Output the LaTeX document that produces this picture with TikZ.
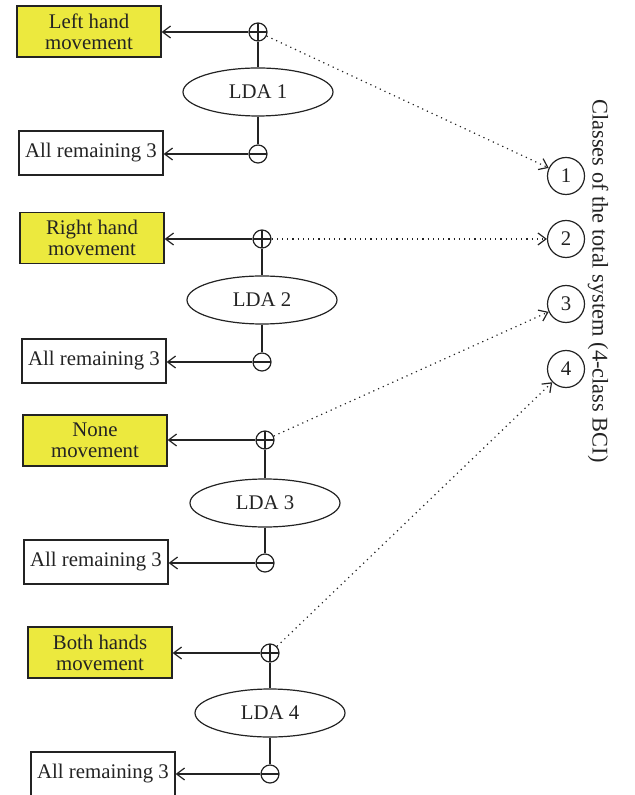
\documentclass[tikz,border=0pt]{standalone}
\usepackage{fontspec}
\setmainfont{Liberation Serif}
\usepackage{xcolor}
\usetikzlibrary{
	arrows,
	arrows.meta,
	shapes,
}
\definecolor{movement}{RGB}{236, 233, 62}
\definecolor{linegray}{RGB}{35, 35, 35}

\begin{document}
\begin{tikzpicture}[x=0.5pt, y=-0.5pt, line width=0.6pt, draw=linegray,
	>={Straight Barb[length=4pt,width=6pt]},
	every node/.style={font=\fontsize{10.4}{10.5}\selectfont, text=linegray},
	movebox/.style={draw, fill=movement, minimum width=72pt, minimum height=25.5pt, align=center, inner sep=1pt},
	restbox/.style={draw, minimum width=72pt, minimum height=22pt, inner sep=1pt},
	ldanode/.style={draw, ellipse, minimum width=75pt, minimum height=24pt, inner sep=0pt},
	posnode/.style={draw, circle, minimum size=9pt, inner sep=0pt,
		path picture={\draw (path picture bounding box.north) -- (path picture bounding box.south)
			(path picture bounding box.west) -- (path picture bounding box.east);}},
	negnode/.style={draw, circle, minimum size=9pt, inner sep=0pt,
		path picture={\draw (path picture bounding box.west) -- (path picture bounding box.east);}},
	clsnode/.style={draw, circle, minimum size=18.5pt, inner sep=0pt},
	]
\useasboundingbox (0,0) rectangle (634,795);
% LDA 1
\node[movebox] (move1) at (89,31.5) {Left hand\\movement};
\node[posnode] (pos1) at (258,32) {};
\node[ldanode] (lda1) at (258,92) {LDA 1};
\node[negnode] (neg1) at (258,154) {};
\node[restbox] (rest1) at (91,153) {All remaining 3};
% LDA 2
\node[movebox] (move2) at (92,238) {Right hand\\movement};
\node[posnode] (pos2) at (262,239) {};
\node[ldanode] (lda2) at (262,300) {LDA 2};
\node[negnode] (neg2) at (262,362) {};
\node[restbox] (rest2) at (94,361) {All remaining 3};
% LDA 3
\node[movebox] (move3) at (95,440.5) {None\\movement};
\node[posnode] (pos3) at (265,440) {};
\node[ldanode] (lda3) at (265,503) {LDA 3};
\node[negnode] (neg3) at (265,563) {};
\node[restbox] (rest3) at (96,562) {All remaining 3};
% LDA 4
\node[movebox] (move4) at (100,652.5) {Both hands\\movement};
\node[posnode] (pos4) at (270,653) {};
\node[ldanode] (lda4) at (270,713) {LDA 4};
\node[negnode] (neg4) at (270,774) {};
\node[restbox] (rest4) at (103,774) {All remaining 3};
% classes
\node[clsnode] (cls1) at (566,176) {1};
\node[clsnode] (cls2) at (566,239) {2};
\node[clsnode] (cls3) at (566,304) {3};
\node[clsnode] (cls4) at (566,369) {4};
\node[rotate=-90, font=\fontsize{11.2}{12}\selectfont] (title) at (598,281) {Classes of the total system (4-class BCI)};

% connections
\foreach \i in {1,...,4}{
	\draw[->] (pos\i) -- (pos\i -| move\i.east);
	\draw[->] (neg\i) -- (neg\i -| rest\i.east);
	\draw (pos\i) -- (lda\i);
	\draw (lda\i) -- (neg\i);
	\draw[->, dotted] (pos\i) -- (cls\i);
}
\end{tikzpicture}
\end{document}
